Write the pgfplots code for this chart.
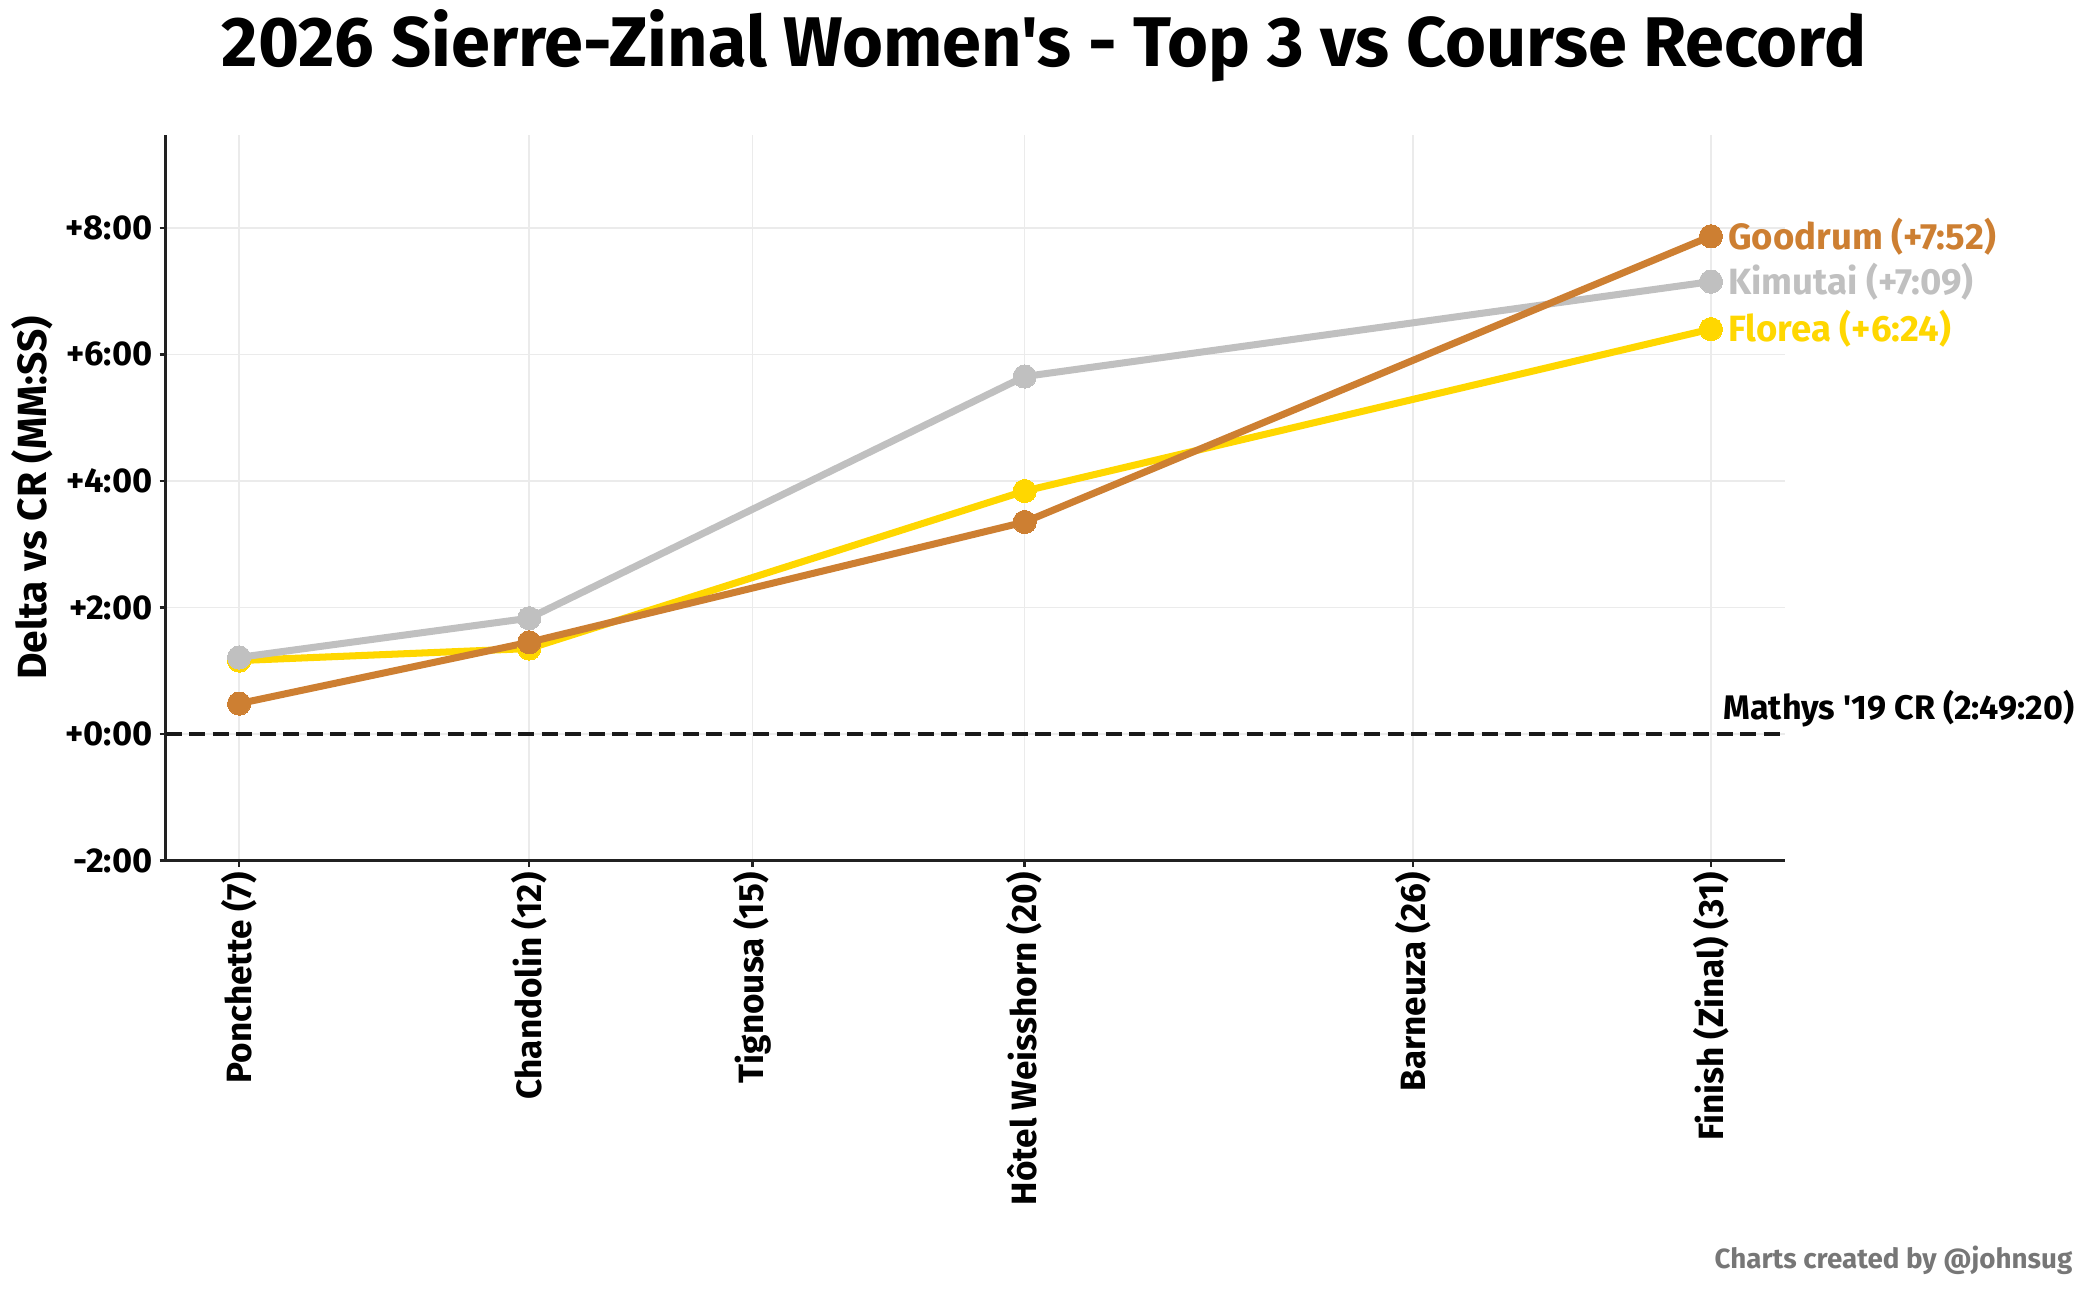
\documentclass[border=0pt]{standalone}
\usepackage{fontspec}
\setmainfont{Fira Sans}[Ligatures=TeXOff, BoldFont={Fira Sans Bold}]
\usepackage{pgfplots}
\pgfplotsset{compat=1.18}
\definecolor{gold}{HTML}{FFD700}
\definecolor{silver}{HTML}{C0C0C0}
\definecolor{bronze}{HTML}{CD7F32}
\definecolor{gridc}{HTML}{EBEBEB}
\definecolor{footc}{HTML}{777777}
\begin{document}
\begin{tikzpicture}
\path[use as bounding box] (0,0) rectangle (208.8mm,129mm);
\begin{axis}[
  scale only axis,
  width=161.9mm, height=72.5mm,
  at={(16.55mm,42.95mm)}, anchor=south west,
  xmin=5.8, xmax=32.2, ymin=-2, ymax=9.46,
  axis lines*=left,
  axis line style={line width=0.7pt, color=black!87},
  clip=false,
  grid=major,
  major grid style={line width=0.4pt, color=gridc},
  tick style={line width=0.7pt, color=black!87},
  tick align=outside, major tick length=0.6mm,
  xtick={7,11.73,15.37,19.81,26.14,31},
  xticklabels={Ponchette (7),Chandolin (12),Tignousa (15),Hôtel Weisshorn (20),Barneuza (26),Finish (Zinal) (31)},
  xticklabel style={rotate=90, anchor=east, font=\fontsize{10}{11}\selectfont\bfseries, inner sep=1.5pt},
  ytick={-2,0,2,4,6,8},
  yticklabels={-2:00,+0:00,+2:00,+4:00,+6:00,+8:00},
  yticklabel style={font=\fontsize{9.8}{11}\selectfont\bfseries, inner sep=1.8pt},
  /pgf/number format/assume math mode=true,
  ylabel={Delta vs CR (MM:SS)},
  ylabel style={font=\fontsize{11.6}{13}\selectfont\bfseries, at={(axis description cs:-0.0826,0.5)}, anchor=center},
]
\addplot[gold, line width=2pt, line cap=round, line join=round, mark=*, mark size=3.3pt, mark options={fill=gold, draw=gold, line width=0pt}]
  coordinates {(7,1.16) (11.73,1.35) (19.81,3.84) (31,6.40)};
\addplot[silver, line width=2pt, line cap=round, line join=round, mark=*, mark size=3.3pt, mark options={fill=silver, draw=silver, line width=0pt}]
  coordinates {(7,1.21) (11.73,1.83) (19.81,5.65) (31,7.15)};
\addplot[bronze, line width=2pt, line cap=round, line join=round, mark=*, mark size=3.3pt, mark options={fill=bronze, draw=bronze, line width=0pt}]
  coordinates {(7,0.48) (11.73,1.45) (19.81,3.35) (31,7.867)};
\addplot[black!90, line width=1.2pt, dash pattern=on 1.6mm off 0.75mm, forget plot]
  coordinates {(5.8,0) (32.2,0)};
\node[anchor=west, xshift=0.5mm, text=bronze, font=\fontsize{10.4}{12}\selectfont\bfseries] at (axis cs:31,7.867) {Goodrum (+7:52)};
\node[anchor=west, xshift=0.5mm, text=silver, font=\fontsize{10.4}{12}\selectfont\bfseries] at (axis cs:31,7.15) {Kimutai (+7:09)};
\node[anchor=west, xshift=0.5mm, text=gold, font=\fontsize{10.4}{12}\selectfont\bfseries] at (axis cs:31,6.40) {Florea (+6:24)};
\node[anchor=base west, xshift=0mm, yshift=1.4mm, font=\fontsize{9.7}{11}\selectfont\bfseries] at (axis cs:31,0) {Mathys '19 CR (2:49:20)};
\end{axis}
\node[anchor=base, font=\fontsize{20}{24}\selectfont\bfseries] at (104.4mm,122.3mm) {2026 Sierre-Zinal Women's - Top 3 vs Course Record};
\node[anchor=base east, inner sep=0pt, text=footc, font=\fontsize{7.9}{9}\selectfont\bfseries] at (207.3mm,2.2mm) {Charts created by @johnsug};
\end{tikzpicture}
\end{document}
